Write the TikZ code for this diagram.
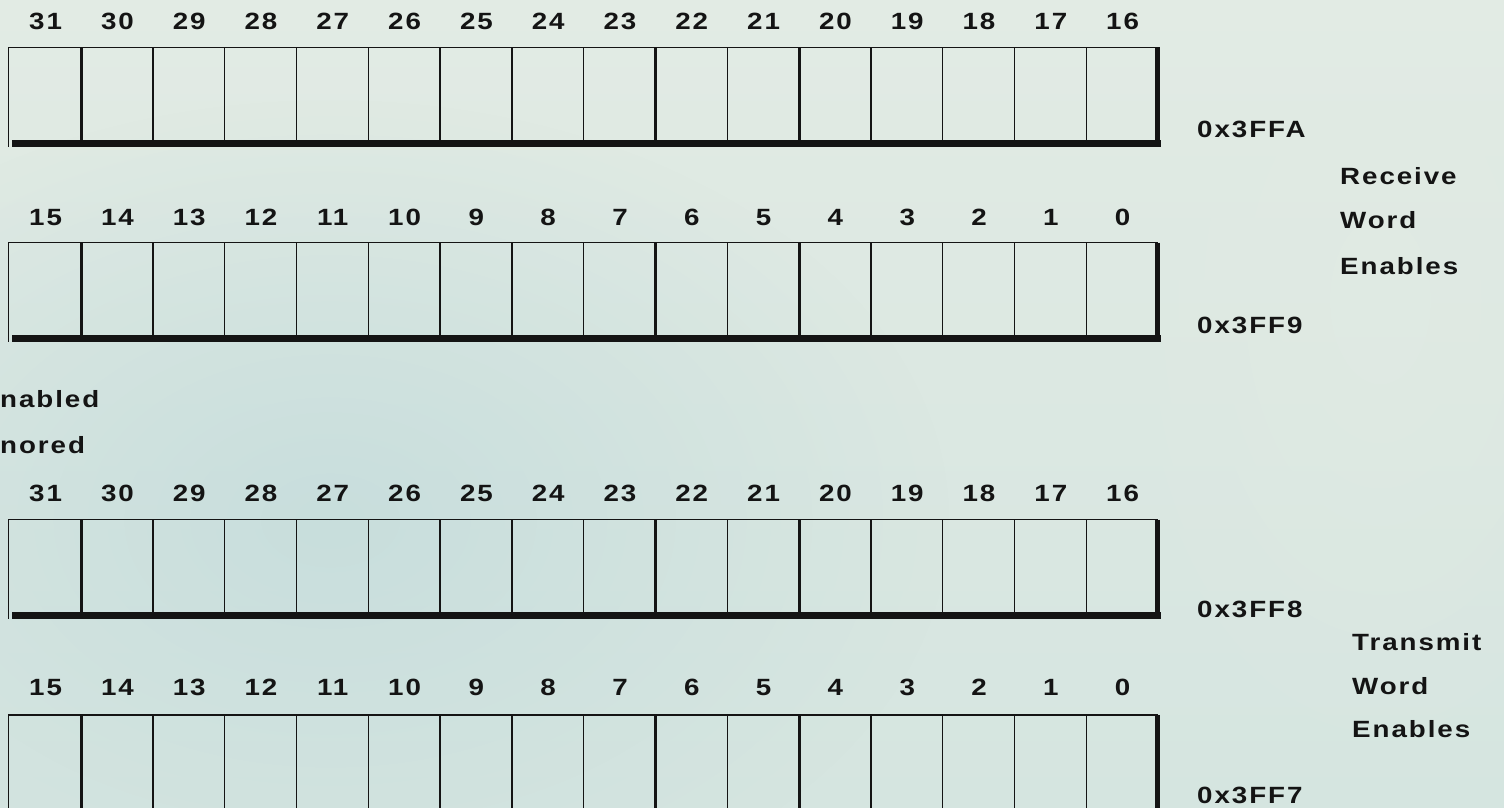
\documentclass[tikz,border=0pt]{standalone}
\usepackage{graphicx}
\usepackage{fontspec}
\setmainfont{Liberation Sans}[LetterSpace=7]
\usetikzlibrary{fadings}
\definecolor{bgtop}{HTML}{E2EBE4}
\definecolor{bgbot}{HTML}{D5E5E0}
\definecolor{bgblue}{HTML}{C6DDDC}
\definecolor{ink}{HTML}{141414}
\tikzfading[name=softfade, inner color=transparent!0, outer color=transparent!100]
\newcommand{\wtxt}[1]{\scalebox{1.18}[1]{#1}}
\begin{document}
\begin{tikzpicture}[x=1pt,y=-1pt,
  lbl/.style={inner sep=0pt, text=ink, font=\fontsize{23.5}{28}\selectfont\bfseries},
  cellline/.style={draw=ink, line width=1.4pt},
  heavydiv/.style={draw=ink, line width=3pt},
  shadowline/.style={draw=ink, line width=6.5pt},
  rightline/.style={draw=ink, line width=5pt}]
\useasboundingbox (0,0) rectangle (1504,808);
\begin{scope}
\clip (0,0) rectangle (1504,808);
\shade[top color=bgtop, bottom color=bgbot] (0,0) rectangle (1504,808);
\fill[bgblue, path fading=softfade, opacity=0.9] (330,520) ellipse [x radius=620, y radius=420];
\fill[bgtop, path fading=softfade, opacity=0.6] (1380,300) ellipse [x radius=300, y radius=500];
\end{scope}
% registers
\foreach \r/\top/\base/\hi in {1/47.5/30/31, 2/242.5/225/15, 3/519.5/501/31, 4/715/695/15}{
  \draw[cellline] (8.5,\top+99) -- (8.5,\top) -- (1158,\top);
  \foreach \k in {1,...,15}{
    \pgfmathsetmacro{\dx}{81+71.8*(\k-1)}
    \ifnum\k=1 \draw[heavydiv] (\dx,\top) -- (\dx,\top+96);
    \else\ifnum\k=9 \draw[heavydiv] (\dx,\top) -- (\dx,\top+96);
    \else\ifnum\k=11 \draw[heavydiv] (\dx,\top) -- (\dx,\top+96);
    \else \draw[cellline] (\dx,\top) -- (\dx,\top+96);
    \fi\fi\fi
  }
  \draw[shadowline] (12,\top+96) -- (1160.5,\top+96);
  \draw[rightline] (1157.5,\top) -- (1157.5,\top+99);
  \foreach \k in {0,...,15}{
    \pgfmathsetmacro{\cx}{45.1+71.8*\k}
    \pgfmathtruncatemacro{\num}{\hi-\k}
    \node[lbl, anchor=base] (b\r-\k) at (\cx+0.5,\base) {\wtxt{\num}};
  }
}
% addresses
\node[lbl, anchor=base west] (a1) at (1197,137) {\wtxt{0x3FFA}};
\node[lbl, anchor=base west] (a2) at (1197,333) {\wtxt{0x3FF9}};
\node[lbl, anchor=base west] (a3) at (1197,617) {\wtxt{0x3FF8}};
\node[lbl, anchor=base west] (a4) at (1197,803) {\wtxt{0x3FF7}};
% group labels
\node[lbl, anchor=base west] (rx1) at (1340,184.5) {\wtxt{Receive}};
\node[lbl, anchor=base west] (rx2) at (1340,228.5) {\wtxt{Word}};
\node[lbl, anchor=base west] (rx3) at (1340,274.5) {\wtxt{Enables}};
\node[lbl, anchor=base west] (tx1) at (1352,650) {\wtxt{Transmit}};
\node[lbl, anchor=base west] (tx2) at (1352,694) {\wtxt{Word}};
\node[lbl, anchor=base west] (tx3) at (1352,737) {\wtxt{Enables}};
% legend (cut at left edge)
\node[lbl, anchor=base west] (en) at (0,407) {\wtxt{nabled}};
\node[lbl, anchor=base west] (ig) at (0,453) {\wtxt{nored}};
\end{tikzpicture}
\end{document}
